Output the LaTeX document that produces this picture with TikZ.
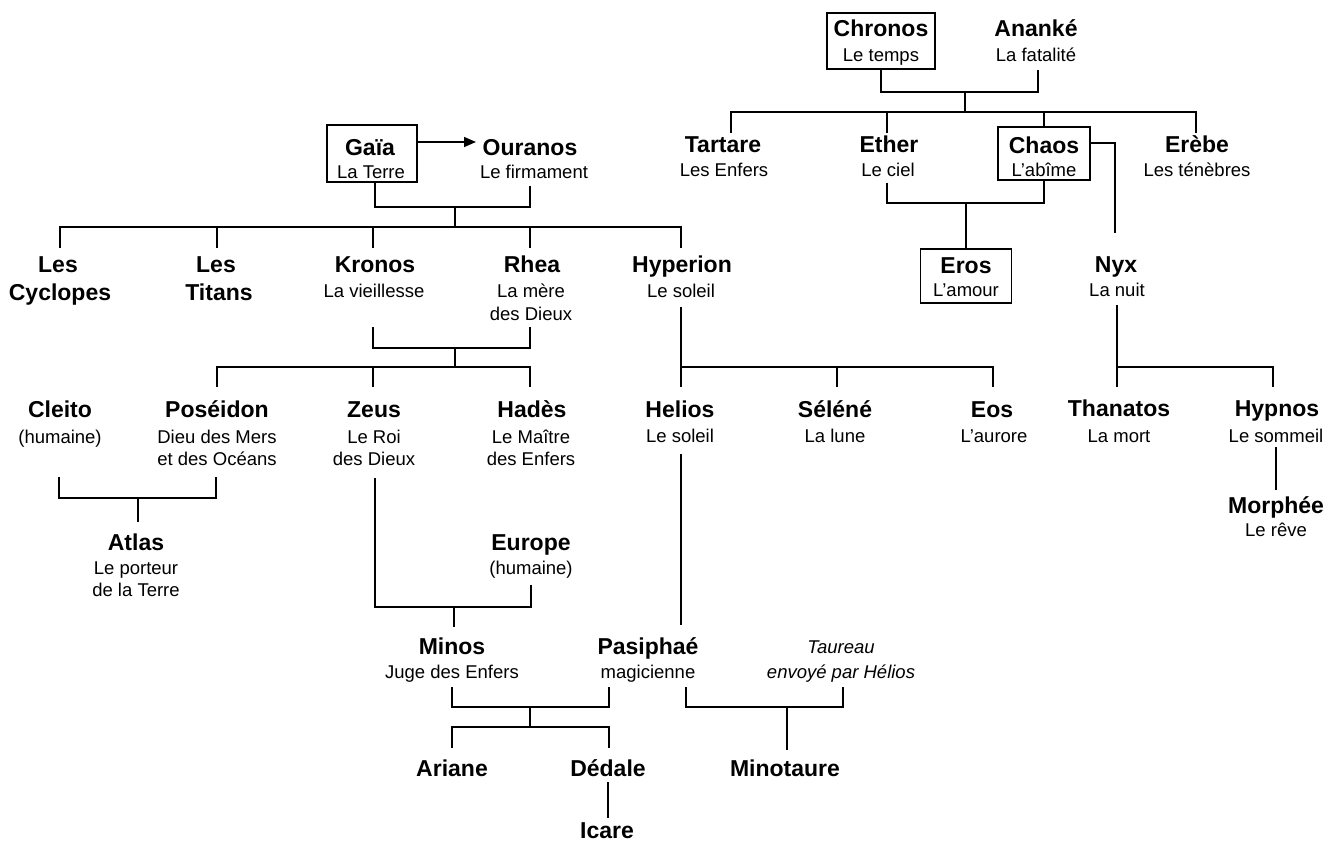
\documentclass[tikz,border=0pt]{standalone}
\usepackage{fontspec}
\setmainfont{Liberation Sans}
\usetikzlibrary{arrows.meta}
\begin{document}
\begin{tikzpicture}[x=1pt,y=-1pt,
  nm/.style={font=\fontsize{23}{27}\selectfont\bfseries, inner sep=0pt, text height=16.5pt, text depth=0pt},
  sb/.style={font=\fontsize{18.5}{22}\selectfont, inner sep=0pt, text height=13.2pt, text depth=0pt},
  itl/.style={font=\fontsize{18.5}{22}\selectfont\itshape, inner sep=0pt, text height=13.2pt, text depth=0pt},
  box/.style={draw, line width=1.2pt, inner sep=0pt},
  link/.style={line width=1.6pt},
]
\useasboundingbox (0,0) rectangle (1341,842);

% ---------- boxes ----------
\node[box, minimum width=108pt, minimum height=56pt] (chronosbox) at (881,41) {};
\node[box, minimum width=90pt, minimum height=57pt] (gaiabox) at (372,153.5) {};
\node[box, minimum width=92pt, minimum height=53pt] (chaosbox) at (1044,153.5) {};
\node[box, minimum width=91pt, minimum height=54pt] (erosbox) at (966,276) {};

% ---------- texts ----------
\node[nm] (chronos) at (881,28) {Chronos};
\node[sb] (chronos-s) at (881,55) {Le temps};
\node[nm] (ananke) at (1036,28) {Ananké};
\node[sb] (ananke-s) at (1036,55) {La fatalité};

\node[nm] (tartare) at (723,144) {Tartare};
\node[sb] (tartare-s) at (724,170) {Les Enfers};
\node[nm] (ether) at (889,144) {Ether};
\node[sb] (ether-s) at (888,170) {Le ciel};
\node[nm] (chaos) at (1044,145) {Chaos};
\node[sb] (chaos-s) at (1044,170) {L’abîme};
\node[nm] (erebe) at (1197,144) {Erèbe};
\node[sb] (erebe-s) at (1197,170) {Les ténèbres};

\node[nm] (eros) at (966,265) {Eros};
\node[sb] (eros-s) at (966,290) {L’amour};
\node[nm] (nyx) at (1116,264) {Nyx};
\node[sb] (nyx-s) at (1117,290) {La nuit};

\node[nm] (gaia) at (370,147) {Gaïa};
\node[sb] (gaia-s) at (371,172) {La Terre};
\node[nm] (ouranos) at (530,147) {Ouranos};
\node[sb] (ouranos-s) at (534,172) {Le firmament};

\node[nm] (cyclopes1) at (58,264) {Les};
\node[nm] (cyclopes2) at (60,292) {Cyclopes};
\node[nm] (titans1) at (216,264) {Les};
\node[nm] (titans2) at (219,292) {Titans};
\node[nm] (kronos) at (375,264) {Kronos};
\node[sb] (kronos-s) at (374,291) {La vieillesse};
\node[nm] (rhea) at (532,264) {Rhea};
\node[sb] (rhea-s1) at (531,291) {La mère};
\node[sb] (rhea-s2) at (531,314) {des Dieux};
\node[nm] (hyperion) at (682,264) {Hyperion};
\node[sb] (hyperion-s) at (681,291) {Le soleil};

\node[nm] (cleito) at (60,409) {Cleito};
\node[sb] (cleito-s) at (60,437) {(humaine)};
\node[nm] (poseidon) at (217,409) {Poséidon};
\node[sb] (poseidon-s1) at (217,437) {Dieu des Mers};
\node[sb] (poseidon-s2) at (217,459) {et des Océans};
\node[nm] (zeus) at (374,409) {Zeus};
\node[sb] (zeus-s1) at (374,437) {Le Roi};
\node[sb] (zeus-s2) at (374,459) {des Dieux};
\node[nm] (hades) at (532,409) {Hadès};
\node[sb] (hades-s1) at (531,437) {Le Maître};
\node[sb] (hades-s2) at (531,459) {des Enfers};
\node[nm] (helios) at (680,409) {Helios};
\node[sb] (helios-s) at (680,436) {Le soleil};
\node[nm] (selene) at (835,409) {Séléné};
\node[sb] (selene-s) at (835,436) {La lune};
\node[nm] (eos) at (992,409) {Eos};
\node[sb] (eos-s) at (994,436) {L’aurore};
\node[nm] (thanatos) at (1119,408) {Thanatos};
\node[sb] (thanatos-s) at (1119,436) {La mort};
\node[nm] (hypnos) at (1277,408) {Hypnos};
\node[sb] (hypnos-s) at (1276,436) {Le sommeil};
\node[nm] (morphee) at (1276,505) {Morphée};
\node[sb] (morphee-s) at (1276,530) {Le rêve};

\node[nm] (atlas) at (136,542) {Atlas};
\node[sb] (atlas-s1) at (136,568) {Le porteur};
\node[sb] (atlas-s2) at (136,590) {de la Terre};
\node[nm] (europe) at (531,542) {Europe};
\node[sb] (europe-s) at (531,568) {(humaine)};

\node[nm] (minos) at (452,646) {Minos};
\node[sb] (minos-s) at (452,672) {Juge des Enfers};
\node[nm] (pasiphae) at (648,646) {Pasiphaé};
\node[sb] (pasiphae-s) at (648,672) {magicienne};
\node[itl] (taureau) at (841,647) {Taureau};
\node[itl] (taureau-s) at (841,672) {envoyé par Hélios};

\node[nm] (ariane) at (452,768) {Ariane};
\node[nm] (dedale) at (608,768) {Dédale};
\node[nm] (icare) at (607,830) {Icare};
\node[nm] (minotaure) at (785,768) {Minotaure};

% ---------- connector end points ----------
\coordinate (chronos-b) at (881,69);
\coordinate (ananke-b) at (1038,70);
\coordinate (c1) at (965,92);
\coordinate (c2) at (965,112);
\coordinate (tartare-t) at (731,133);
\coordinate (ether-t) at (887,133);
\coordinate (erebe-t) at (1196,133);
\coordinate (cn) at (1115,143);
\coordinate (nyx-t) at (1115,233);
\coordinate (ether-b) at (887,183);
\coordinate (e1) at (966,203);
\coordinate (nyx-b) at (1117,305);
\coordinate (thanatos-t) at (1117,387);
\coordinate (n1) at (1117,367);
\coordinate (hypnos-t) at (1273,387);
\coordinate (hypnos-b) at (1276,447);
\coordinate (morphee-t) at (1276,490);

\coordinate (ouranos-a) at (476,142);
\coordinate (g1) at (375,207);
\coordinate (g2) at (455,207);
\coordinate (g3) at (455,227);
\coordinate (ouranos-b) at (530,186);
\coordinate (cyclopes-t) at (60,248);
\coordinate (titans-t) at (217,248);
\coordinate (kronos-t) at (373,248);
\coordinate (rhea-t) at (530,248);
\coordinate (hyperion-t) at (681,248);
\coordinate (kronos-b) at (373,327);
\coordinate (rhea-b) at (530,327);
\coordinate (k1) at (455,348);
\coordinate (k2) at (455,367);
\coordinate (poseidon-t) at (217,387);
\coordinate (zeus-t) at (373,387);
\coordinate (hades-t) at (530,387);
\coordinate (hyperion-b) at (681,307);
\coordinate (helios-t) at (681,387);
\coordinate (h1) at (681,367);
\coordinate (selene-t) at (837,387);
\coordinate (eos-t) at (993,387);

\coordinate (cleito-b) at (59,477);
\coordinate (poseidon-b) at (216,477);
\coordinate (a1) at (138,498);
\coordinate (atlas-t) at (138,522);
\coordinate (zeus-b) at (375,478);
\coordinate (europe-b) at (531,585);
\coordinate (m1) at (454,607);
\coordinate (minos-t) at (454,627);
\coordinate (helios-b) at (681,454);
\coordinate (pasiphae-t) at (681,625);
\coordinate (minos-b) at (452,687);
\coordinate (pasiphae-b) at (609,687);
\coordinate (p1) at (530,707);
\coordinate (p2) at (530,727);
\coordinate (ariane-t) at (452,748);
\coordinate (dedale-t) at (609,748);
\coordinate (dedale-b) at (608,782);
\coordinate (icare-t) at (608,818);
\coordinate (pasiphae-b2) at (686,687);
\coordinate (taureau-b) at (843,687);
\coordinate (t1) at (787,707);
\coordinate (minotaure-t) at (787,750);

% ---------- connectors ----------
\draw[link] (chronosbox.south -| chronos-b) |- (c1) -| (ananke-b);
\draw[link] (c1) -- (c2);
\draw[link] (tartare-t) |- (c2) -| (erebe-t);
\draw[link] (ether-t |- c2) -- (ether-t);
\draw[link] (chaosbox.north |- c2) -- (chaosbox.north);
\draw[link] (chaosbox.east |- cn) -| (nyx-t);
\draw[link] (ether-b) |- (e1) -| (chaosbox.south);
\draw[link] (e1) -- (erosbox.north);
\draw[link] (nyx-b) -- (thanatos-t);
\draw[link] (n1) -| (hypnos-t);
\draw[link] (hypnos-b) -- (morphee-t);

\draw[link, -{Triangle[length=12pt,width=10pt]}] (gaiabox.east |- ouranos-a) -- (ouranos-a);
\draw[link] (gaiabox.south -| g1) |- (g2) -| (ouranos-b);
\draw[link] (g2) -- (g3);
\draw[link] (cyclopes-t) |- (g3) -| (hyperion-t);
\draw[link] (titans-t |- g3) -- (titans-t);
\draw[link] (kronos-t |- g3) -- (kronos-t);
\draw[link] (rhea-t |- g3) -- (rhea-t);
\draw[link] (kronos-b) |- (k1) -| (rhea-b);
\draw[link] (k1) -- (k2);
\draw[link] (poseidon-t) |- (k2) -| (hades-t);
\draw[link] (zeus-t |- k2) -- (zeus-t);
\draw[link] (hyperion-b) -- (helios-t);
\draw[link] (h1) -| (eos-t);
\draw[link] (selene-t |- h1) -- (selene-t);

\draw[link] (cleito-b) |- (a1) -| (poseidon-b);
\draw[link] (a1) -- (atlas-t);
\draw[link] (zeus-b) |- (m1) -| (europe-b);
\draw[link] (m1) -- (minos-t);
\draw[link] (helios-b) -- (pasiphae-t);
\draw[link] (minos-b) |- (p1) -| (pasiphae-b);
\draw[link] (p1) -- (p2);
\draw[link] (ariane-t) |- (p2) -| (dedale-t);
\draw[link] (dedale-b) -- (icare-t);
\draw[link] (pasiphae-b2) |- (t1) -| (taureau-b);
\draw[link] (t1) -- (minotaure-t);
\end{tikzpicture}
\end{document}
